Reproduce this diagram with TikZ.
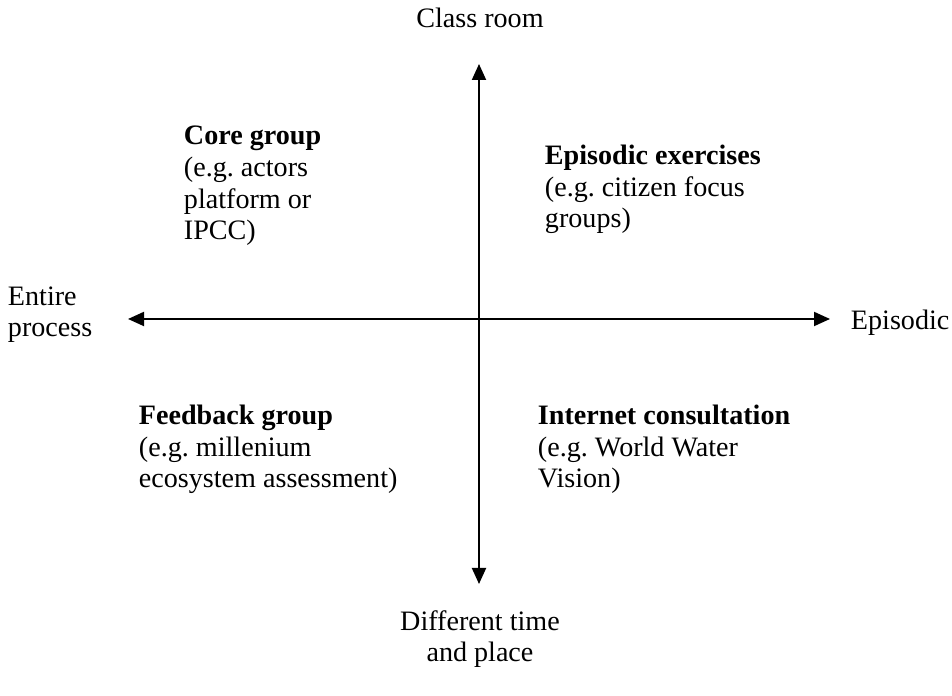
\documentclass[tikz,border=0pt]{standalone}
\usepackage{fontspec}
\setmainfont{Liberation Serif}
\usepackage{tikz}
\usetikzlibrary{arrows.meta, positioning}
\frenchspacing

\begin{document}
\begin{tikzpicture}[>={Triangle[length=0.32cm, width=0.28cm]}, line width=1.1pt,
  every node/.style={font=\fontsize{16}{18.2}\selectfont, inner sep=0pt},
  quadrant/.style={anchor=base west, align=left}]
  \useasboundingbox (0,0) rectangle (19.04,13.92);
  % axes
  \coordinate (origin) at (9.58,7.54);
  \coordinate (top) at (9.58,12.64);
  \coordinate (bottom) at (9.58,2.24);
  \coordinate (left) at (2.56,7.54);
  \coordinate (right) at (16.60,7.54);
  \draw [<->] (top) -- (bottom);
  \draw [<->] (left) -- (right);
  % axis labels (base = last line)
  \node [anchor=base] (classroom) at (9.6,13.36) {Class room};
  \node [anchor=base, align=center] (difftime) at (9.6,0.68) {Different time\\and place};
  \node [anchor=base west, align=left] (entire) at (0.14,7.18) {Entire\\process};
  \node [anchor=base west] (episodic) at (17.0,7.32) {Episodic};
  % quadrants
  \node [quadrant] (core) at (3.66,9.12)
  {\textbf{Core group}\\(e.g. actors\\platform or\\IPCC)};
  \node [quadrant] (exercises) at (10.88,9.36)
  {\textbf{Episodic exercises}\\(e.g. citizen focus\\groups)};
  \node [quadrant] (feedback) at (2.76,4.16)
  {\textbf{Feedback group}\\(e.g. millenium\\ecosystem assessment)};
  \node [quadrant] (internet) at (10.74,4.16)
  {\textbf{Internet consultation}\\(e.g. World Water\\Vision)};
\end{tikzpicture}
\end{document}
